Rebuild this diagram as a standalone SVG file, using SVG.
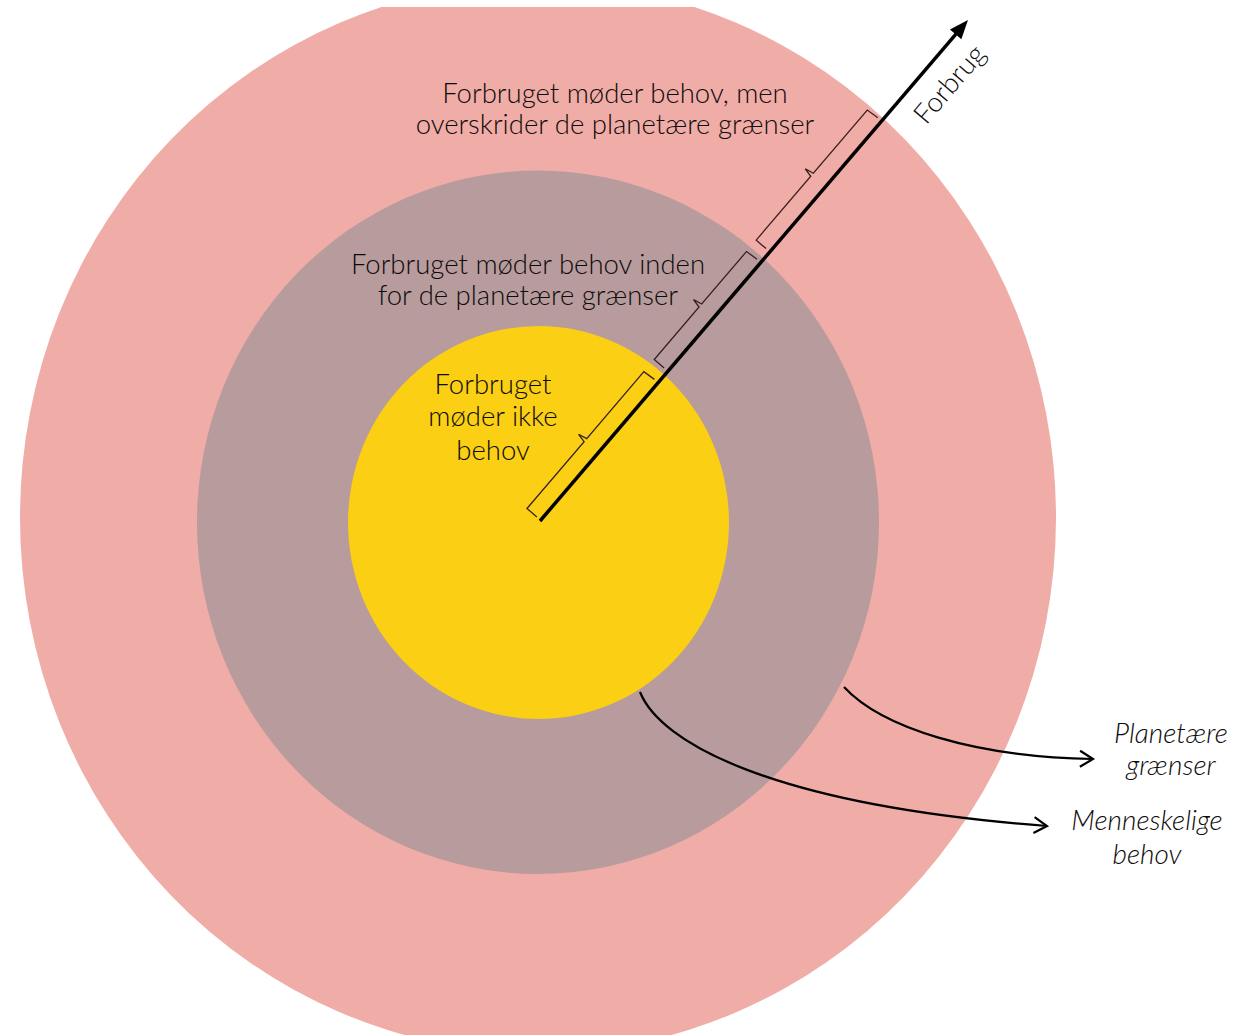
<svg xmlns="http://www.w3.org/2000/svg" width="1255" height="1035" viewBox="0 0 1255 1035">
<style>
.lbl{font-family:Lato,"Open Sans","Liberation Sans",sans-serif;font-size:27.5px;font-weight:300;fill:#0d0b0b;text-anchor:middle}
.it{font-style:italic;font-size:28px}
.brk{fill:none;stroke:#3a2020;stroke-width:1.3;stroke-linejoin:miter}
.con{fill:none;stroke:#000;stroke-width:2.2}
</style>
<defs>
<clipPath id="clipOuter"><rect x="0" y="7" width="1255" height="1028"/></clipPath>
<marker id="chev" markerWidth="18" markerHeight="22" refX="15" refY="10" orient="auto" markerUnits="userSpaceOnUse">
<path d="M2,2 L15,10 L2,18" fill="none" stroke="#000" stroke-width="2.2"/>
</marker>
</defs>
<rect width="1255" height="1035" fill="#fff"/>
<g id="ring-outer"><ellipse cx="538" cy="517.5" rx="518" ry="535.5" fill="#f0aca6" clip-path="url(#clipOuter)"/></g>
<g id="ring-middle"><ellipse cx="538" cy="522.3" rx="341" ry="351.7" fill="#b89b9c"/></g>
<g id="ring-inner"><ellipse cx="538.5" cy="522.5" rx="190.5" ry="196.5" fill="#facf14"/></g>

<g id="axis" transform="translate(540 521) rotate(-49.5)">
<line x1="0" y1="0" x2="644" y2="0" stroke="#000" stroke-width="3.5"/>
<polygon points="659,0 640,-7.5 640,7.5" fill="#000"/>
<text class="lbl" x="598" y="37">Forbrug</text>
</g>

<g id="brackets" transform="translate(540 521) rotate(-49.5)">
<path class="brk" d="M1,-5 L1,-18 L89,-18 L91,-27 L93,-18 L181,-18 L182,-5"/>
<path class="brk" d="M197,-5 L197,-18 L266,-18 L268,-27 L270,-18 L339,-18 L340,-5"/>
<path class="brk" d="M354,-5 L354,-18 L438,-18 L440,-27 L442,-18 L525,-18 L526,-5"/>
</g>

<g id="label-outer">
<text class="lbl" x="615" y="103">Forbruget møder behov, men</text>
<text class="lbl" x="615" y="134">overskrider de planetære grænser</text>
</g>
<g id="label-middle">
<text class="lbl" x="528" y="274">Forbruget møder behov inden</text>
<text class="lbl" x="528" y="305">for de planetære grænser</text>
</g>
<g id="label-inner">
<text class="lbl" x="493" y="394">Forbruget</text>
<text class="lbl" x="493" y="426">møder ikke</text>
<text class="lbl" x="493" y="460">behov</text>
</g>
<g id="label-planetaere">
<text class="lbl it" x="1171" y="743">Planetære</text>
<text class="lbl it" x="1171" y="775">grænser</text>
</g>
<g id="label-menneskelige">
<text class="lbl it" x="1147" y="830">Menneskelige</text>
<text class="lbl it" x="1147" y="864">behov</text>
</g>

<g id="connectors">
<path class="con" d="M844,687 C882,728 975,757 1093,759" marker-end="url(#chev)"/>
<path class="con" d="M640,692 C660,742 770,805 1047,826" marker-end="url(#chev)"/>
</g>
</svg>
